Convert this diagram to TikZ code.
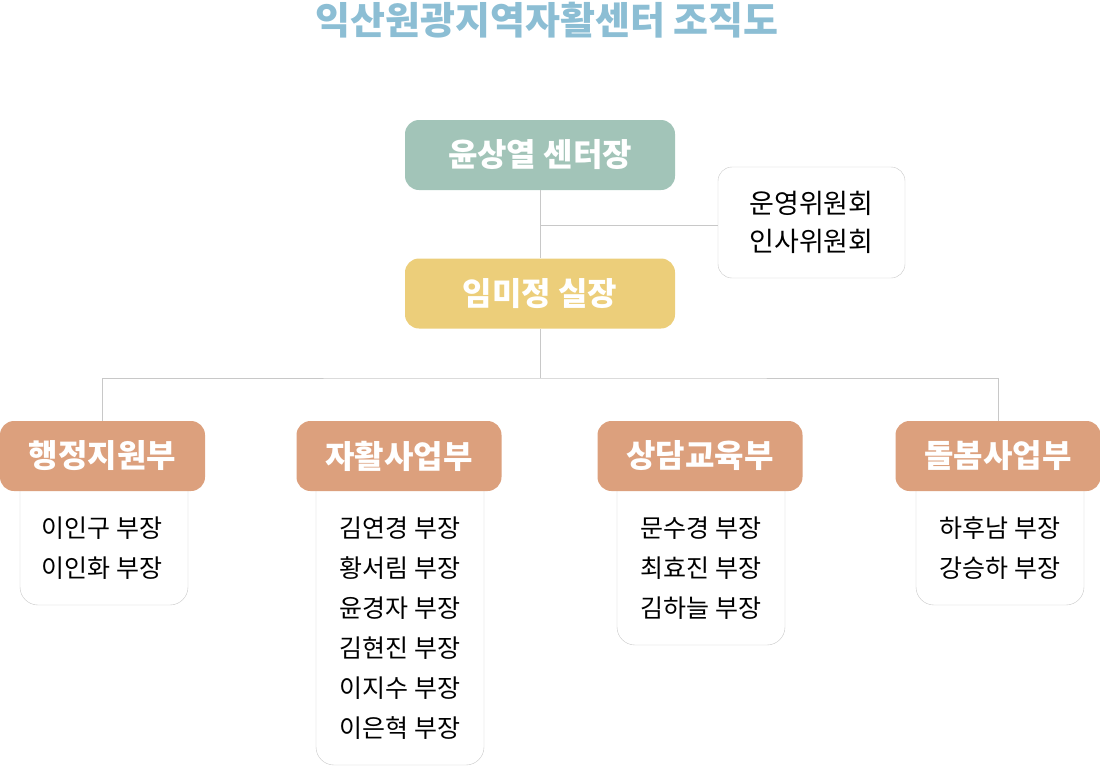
\documentclass[tikz,border=0pt]{standalone}
\usepackage{fontspec}
\setmainfont{Noto Sans CJK KR}
\usetikzlibrary{positioning}
\definecolor{ttl}{RGB}{140,190,212}
\definecolor{ceoc}{RGB}{162,196,184}
\definecolor{dirc}{RGB}{236,206,122}
\definecolor{depc}{RGB}{220,160,125}
\definecolor{lgray}{RGB}{200,200,200}
\tikzset{x=1pt,y=-1pt,
ln/.style={draw=lgray,line width=1pt},
hd/.style={rectangle,rounded corners=14pt,minimum width=270pt,minimum height=70pt,
  text=white,font=\fontsize{32}{38}\selectfont\bfseries},
dep/.style={rectangle,rounded corners=14pt,fill=depc,minimum width=205pt,minimum height=70pt,
  text=white,font=\fontsize{32}{38}\selectfont\bfseries},
mem/.style={rectangle,draw=lgray,fill=white,rounded corners=18pt,minimum width=168pt},
nm/.style={font=\fontsize{25}{30}\selectfont},
cmt/.style={rectangle,draw=lgray,rounded corners=14pt,minimum width=187pt,minimum height=111pt,
  align=center,font=\fontsize{27}{38}\selectfont},
}
\begin{document}
\begin{tikzpicture}
\useasboundingbox (0,0) rectangle (1100,766);
\node[text=ttl,font=\fontsize{38}{44}\selectfont\bfseries] (title) at (547,20) {익산원광지역자활센터 조직도};

\node[hd,fill=ceoc] (ceo) at (540,155) {윤상열 센터장};
\node[hd,fill=dirc] (dir) at (540,293.5) {임미정 실장};
\node[cmt] (com) at (811.5,222.5) {운영위원회\\인사위원회};

% member lists, drawn below the department boxes
\node[mem,minimum height=135pt] (m1) at (104,537.5) {};
\node[mem,minimum height=295pt] (m2) at (400,617.5) {};
\node[mem,minimum height=175pt] (m3) at (701,557.5) {};
\node[mem,minimum height=135pt] (m4) at (1000,537.5) {};
\foreach \t [count=\i] in {이인구 부장,이인화 부장}
  \node[nm] (m1-\i) at (102,488+40*\i) {\t};
\foreach \t [count=\i] in {김연경 부장,황서림 부장,윤경자 부장,김현진 부장,이지수 부장,이은혁 부장}
  \node[nm] (m2-\i) at (400,488+40*\i) {\t};
\foreach \t [count=\i] in {문수경 부장,최효진 부장,김하늘 부장}
  \node[nm] (m3-\i) at (701,488+40*\i) {\t};
\foreach \t [count=\i] in {하후남 부장,강승하 부장}
  \node[nm] (m4-\i) at (1000,488+40*\i) {\t};

\node[dep] (d1) at (102.5,456) {행정지원부};
\node[dep] (d2) at (399,456) {자활사업부};
\node[dep] (d3) at (700,456) {상담교육부};
\node[dep] (d4) at (998,456) {돌봄사업부};

\coordinate (j1) at (540,225);
\coordinate (bus) at (540,378);
\draw[ln] (ceo) -- (dir);
\draw[ln] (j1) -- (j1 -| com.west);
\draw[ln] (dir) -- (bus);
\draw[ln] (d1.north) |- (bus) -| (d4.north);
\end{tikzpicture}
\end{document}
